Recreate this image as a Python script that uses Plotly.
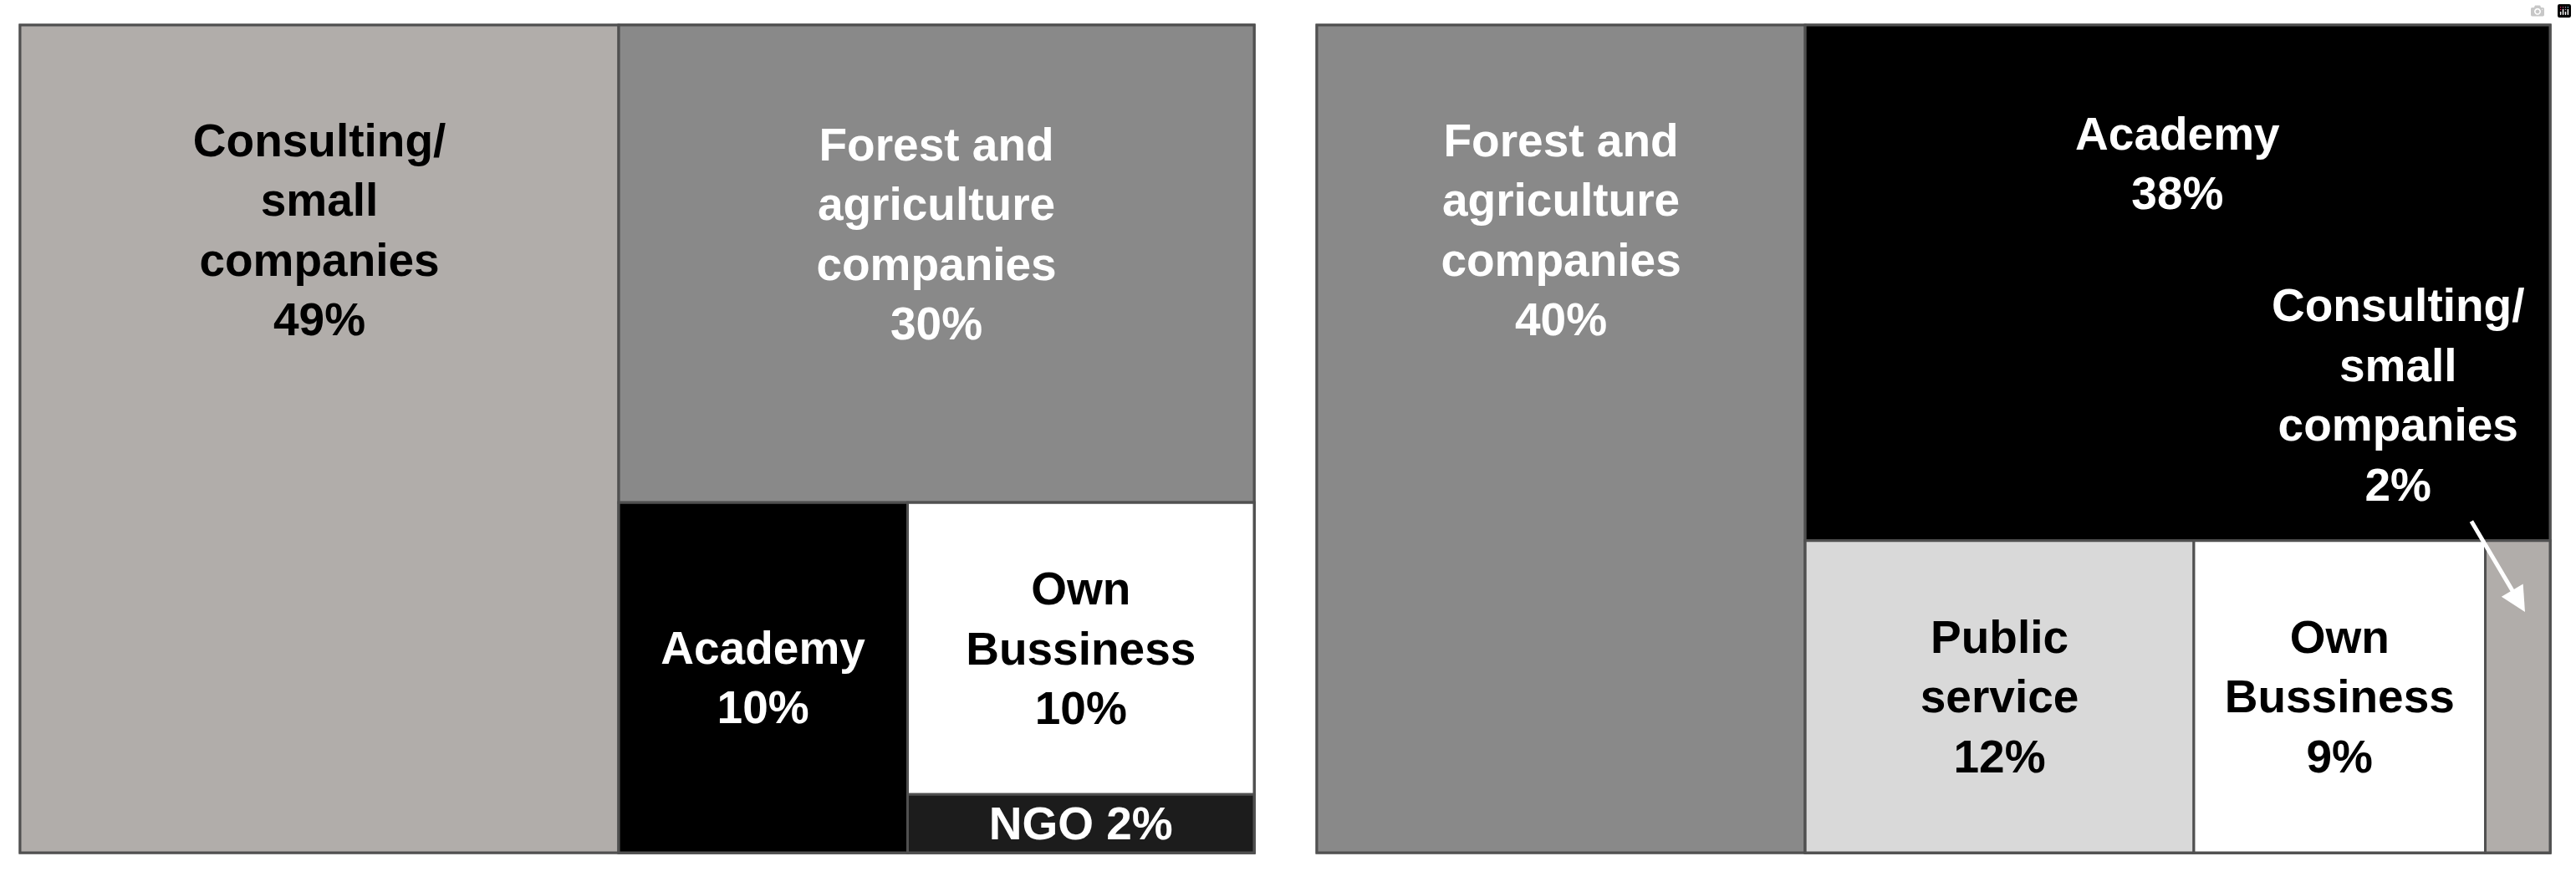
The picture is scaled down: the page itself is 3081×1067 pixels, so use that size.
import plotly.graph_objects as go

# left panel
left_labels = ["Consulting/<br>small<br>companies", "Forest and<br>agriculture<br>companies",
               "Academy", "Own<br>Bussiness", "NGO"]
left_values = [49, 30, 10, 10, 2]

# right panel
right_labels = ["Forest and<br>agriculture<br>companies", "Academy", "Public<br>service",
                "Own<br>Bussiness", "Consulting/<br>small<br>companies"]
right_values = [40, 38, 12, 9, 2]

# nesting groups so slice/dice tiling gives the same blocks as the original
left_groups = ["root", "g1", "g2", "g3", "g3"]
right_groups = ["root", "g1", "g2", "g2", "g2"]

left_colors = ["#B1ADAA", "#898989", "#000000", "#FFFFFF", "#1C1C1C"]
left_txtcol = ["black", "white", "white", "black", "white"]
left_sep = ["<br>", "<br>", "<br>", "<br>", " "]
left_pad = [7, 1, 0, 0, 0]

right_colors = ["#898989", "#000000", "#D9D9D9", "#FFFFFF", "#B1ADAA"]
right_txtcol = ["white", "white", "black", "black", "black"]
right_sep = ["<br>", "<br>", "<br>", "<br>", "<br>"]
right_pad = [7, 4, 0, 0, 0]
right_hide = [False, False, False, False, True]

LINE = "#505050"
FS = 55
W, H = 3081, 1067


def build(prefix, labels, values, groups, colors, txtcol, sep, pad, hide=None):
    grp_parent = {"root": "", "g1": "root", "g2": "g1", "g3": "g2"}
    ids, par, vals, cols, tcol, txt = [], [], [], [], [], []

    def add(i, p, v, c, tc, t):
        ids.append(i); par.append(p); vals.append(v)
        cols.append(c); tcol.append(tc); txt.append(t)

    add(prefix + "root", "", 0, "#FFFFFF", "black", "")
    made = {"root"}
    for i, lab in enumerate(labels):
        # create group nodes lazily so they come after the earlier siblings
        chain = []
        g = groups[i]
        while g not in made:
            chain.append(g)
            g = grp_parent[g]
        for g in reversed(chain):
            add(prefix + g, prefix + grp_parent[g], 0, "#FFFFFF", "black", "")
            made.add(g)
        if hide and hide[i]:
            t = ""
        else:
            t = lab + sep[i] + f"{values[i]}%" + "<br>\u00a0" * pad[i]
        add(prefix + str(i), prefix + groups[i], values[i], colors[i], txtcol[i], t)
    return ids, par, vals, cols, tcol, txt


def tree(domain_x, prefix, *args):
    ids, par, vals, cols, tcol, txt = build(prefix, *args)
    return go.Treemap(
        ids=ids, parents=par, values=vals, labels=ids, text=txt,
        branchvalues="remainder", sort=False,
        textinfo="text", textposition="middle center",
        textfont=dict(family="Liberation Sans, Arial", size=FS, color=tcol, weight="bold"),
        marker=dict(colors=cols, line=dict(color=LINE, width=3),
                    pad=dict(t=0, l=0, r=0, b=0), depthfade=False),
        tiling=dict(packing="slice-dice", pad=0),
        pathbar=dict(visible=False),
        hoverinfo="skip",
        domain=dict(x=domain_x, y=[1 - 1020 / H, 1 - 30 / H]),
    )


fig = go.Figure()
fig.add_trace(tree([24 / W, 1500 / W], "L", left_labels, left_values, left_groups,
                   left_colors, left_txtcol, left_sep, left_pad))
fig.add_trace(tree([1575 / W, 3050 / W], "R", right_labels, right_values, right_groups,
                   right_colors, right_txtcol, right_sep, right_pad, right_hide))

# small tile on the right gets its label outside, with an arrow
fig.add_annotation(x=2868 / W, y=1 - 472 / H, xref="paper", yref="paper",
                   xanchor="center", yanchor="middle",
                   text=right_labels[4] + "<br>" + f"{right_values[4]}%",
                   showarrow=False,
                   font=dict(family="Liberation Sans, Arial", size=FS, color="white", weight="bold"))
fig.add_annotation(x=3020 / W, y=1 - 732 / H, xref="paper", yref="paper",
                   ax=-65, ay=-110, text="", showarrow=True,
                   arrowhead=2, arrowsize=1.2, arrowwidth=5, arrowcolor="white")

fig.update_layout(width=W, height=H, margin=dict(l=0, r=0, t=0, b=0),
                  paper_bgcolor="white", font=dict(family="Liberation Sans, Arial"))

fig.write_html("out.html", post_script="document.body.style.margin='0';")
